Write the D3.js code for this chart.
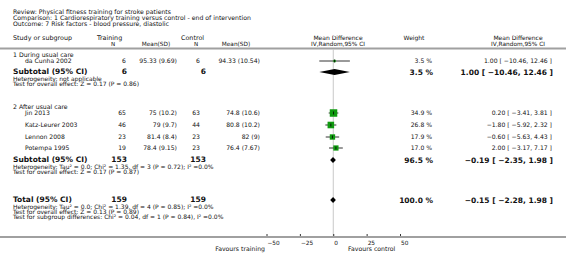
<!DOCTYPE html>
<html>
<head>
<meta charset="utf-8">
<script src="https://cdn.jsdelivr.net/npm/d3@7"></script>
<style>
  body { margin: 0; background: #fff; }
  text { font-family: "DejaVu Sans", Verdana, sans-serif; fill: #111; }
</style>
</head>
<body>
<div id="grafico"></div>
<script>
// study data
const studies   = ["da Cunha 2002", "Jin 2013", "Katz-Leurer 2003", "Lennon 2008", "Potempa 1995"];
const trainN    = [6, 65, 46, 23, 19];
const trainMean = [95.33, 75, 79, 81.4, 78.4];
const trainSD   = [9.69, 10.2, 9.7, 8.4, 9.15];
const ctrlN     = [6, 63, 44, 23, 23];
const ctrlMean  = [94.33, 74.8, 80.8, 82, 76.4];
const ctrlSD    = [10.54, 10.6, 10.2, 9, 7.67];
const md        = [1.00, 0.20, -1.80, -0.60, 2.00];
const ciLow     = [-10.46, -3.41, -5.92, -5.63, -3.17];
const ciHigh    = [12.46, 3.81, 2.32, 4.43, 7.17];
const weights   = [3.5, 34.9, 26.8, 17.9, 17.0];

// subgroup / total data
const groupNames  = ["1 During usual care", "2 After usual care"];
const pooledNames = ["Subtotal (95% CI)", "Subtotal (95% CI)", "Total (95% CI)"];
const pooledTrN   = [6, 153, 159];
const pooledCtN   = [6, 153, 159];
const pooledMd    = [1.00, -0.19, -0.15];
const pooledLow   = [-10.46, -2.35, -2.28];
const pooledHigh  = [12.46, 1.98, 1.98];
const pooledW     = [3.5, 96.5, 100.0];
const pooledNotes = [
  ["Heterogeneity: not applicable",
   "Test for overall effect: Z = 0.17 (P = 0.86)"],
  ["Heterogeneity: Tau\u00b2 = 0.0; Chi\u00b2 = 1.35, df = 3 (P = 0.72); I\u00b2 =0.0%",
   "Test for overall effect: Z = 0.17 (P = 0.87)"],
  ["Heterogeneity: Tau\u00b2 = 0.0; Chi\u00b2 = 1.39, df = 4 (P = 0.85); I\u00b2 =0.0%",
   "Test for overall effect: Z = 0.13 (P = 0.89)",
   "Test for subgroup differences: Chi\u00b2 = 0.04, df = 1 (P = 0.84), I\u00b2 =0.0%"]
];
const ticks = [-50, -25, 0, 25, 50];
const headerLines = [
  "Review:  Physical fitness training for stroke patients",
  "Comparison:  1 Cardiorespiratory training versus control - end of intervention",
  "Outcome:  7 Risk factors - blood pressure, diastolic"
];

// layout
const width = 566, height = 260;
const studyY  = [61, 113, 125, 137, 148];
const groupY  = [55, 107];
const pooledY = [72, 160, 200];
const axisY = 237;

const svg = d3.select("#grafico").append("svg")
  .attr("width", width).attr("height", height);

const x = d3.scaleLinear().domain([-50, 50]).range([266.5, 400]);

function txt(s, px, py, size, anchor, weight) {
  return svg.append("text")
    .attr("x", px).attr("y", py).attr("dy", "0.35em")
    .attr("font-size", size + "px")
    .attr("text-anchor", anchor || "start")
    .attr("font-weight", weight || "normal")
    .text(s);
}

// title block
headerLines.forEach((s, i) => txt(s, 13, 12 + i * 5.7, 6.2, "start"));

// column headers
txt("Study or subgroup", 13, 37.5, 6.4);
txt("Training", 97, 37.5, 6.4);
txt("N", 113, 44, 5.6, "middle");
txt("Mean(SD)", 156, 44, 5.8, "middle");
txt("Control", 181, 37.5, 6.4);
txt("N", 196, 44, 5.6, "middle");
txt("Mean(SD)", 236, 44, 5.8, "middle");
txt("Mean Difference", 338, 37.5, 6, "middle");
txt("IV,Random,95% CI", 338, 44, 5.8, "middle");
txt("Weight", 414, 37.5, 6, "middle");
txt("Mean Difference", 518, 37.5, 6, "middle");
txt("IV,Random,95% CI", 518, 44, 5.8, "middle");

svg.append("line").attr("x1", 0).attr("x2", width)
  .attr("y1", 48.5).attr("y2", 48.5)
  .attr("stroke", "#a0a0a0").attr("stroke-width", 2);

// zero line
svg.append("line").attr("x1", x(0)).attr("x2", x(0))
  .attr("y1", 49).attr("y2", axisY)
  .attr("stroke", "#c8c8c8").attr("stroke-width", 1);

// subgroup labels
groupNames.forEach((s, i) => txt(s, 13, groupY[i], 6.2));

const fmt = d3.format(".2f");

// study rows
studies.forEach((s, i) => {
  const y = studyY[i];
  txt(s, 25, y, 6.1);
  txt(trainN[i], 126, y, 6.1, "end");
  txt(`${trainMean[i]} (${trainSD[i]})`, 177, y, 6.1, "end");
  txt(ctrlN[i], 200, y, 6.1, "end");
  txt(`${ctrlMean[i]} (${ctrlSD[i]})`, 260, y, 6.1, "end");
  txt(weights[i].toFixed(1) + " %", 432, y, 6.1, "end");
  txt(`${fmt(md[i])} [ ${fmt(ciLow[i])}, ${fmt(ciHigh[i])} ]`, 552, y, 6.1, "end");

  svg.append("line").attr("x1", x(ciLow[i])).attr("x2", x(ciHigh[i]))
    .attr("y1", y).attr("y2", y).attr("stroke", "#000").attr("stroke-width", 0.8);
  const side = 1.27 * Math.sqrt(weights[i]);
  svg.append("rect")
    .attr("x", x(md[i]) - side / 2).attr("y", y - side / 2)
    .attr("width", side).attr("height", side)
    .attr("fill", "#109a10");
  svg.append("line").attr("x1", x(md[i])).attr("x2", x(md[i]))
    .attr("y1", y - 1.5).attr("y2", y + 1.5).attr("stroke", "#000").attr("stroke-width", 0.8);
});

// pooled rows
pooledNames.forEach((s, i) => {
  const y = pooledY[i];
  txt(s, 13, y - 0.5, 7.5, "start", "bold");
  txt(pooledTrN[i], 127, y - 0.5, 7.5, "end", "bold");
  txt(pooledCtN[i], 206, y - 0.5, 7.5, "end", "bold");
  txt(pooledW[i].toFixed(1) + " %", 433, y, 7.5, "end", "bold");
  txt(`${fmt(pooledMd[i])} [ ${fmt(pooledLow[i])}, ${fmt(pooledHigh[i])} ]`, 553, y, 7.5, "end", "bold");
  pooledNotes[i].forEach((n, j) => txt(n, 13, y + 6.6 + j * 5.3, 6));

  const l = Math.min(x(pooledLow[i]), x(pooledMd[i]) - 2);
  const h = Math.max(x(pooledHigh[i]), x(pooledMd[i]) + 2);
  svg.append("path")
    .attr("d", `M${l},${y} L${x(pooledMd[i])},${y - 3} L${h},${y} L${x(pooledMd[i])},${y + 3} Z`)
    .attr("fill", "#000");
});

// axis
svg.append("line").attr("x1", 0).attr("x2", width)
  .attr("y1", axisY).attr("y2", axisY)
  .attr("stroke", "#a0a0a0").attr("stroke-width", 2);

const axis = svg.append("g")
  .attr("transform", `translate(0, ${axisY - 1})`)
  .call(d3.axisBottom(x).tickValues(ticks).tickSize(-2).tickPadding(5));
axis.select(".domain").remove();
axis.selectAll(".tick line").attr("stroke", "#000").attr("stroke-width", 0.8);
axis.selectAll(".tick text")
  .attr("font-size", "5.8px").attr("font-family", "DejaVu Sans")
  .attr("text-anchor", "start").attr("dx", "0.5");

txt("Favours training", 265, 249, 6.2, "end");
txt("Favours control", 348, 249, 6.2, "start");
</script>
</body>
</html>
